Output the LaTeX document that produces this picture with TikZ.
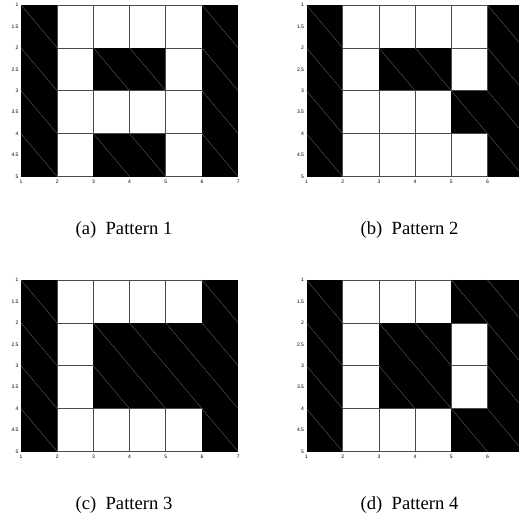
\documentclass[tikz,border=0pt]{standalone}
\usepackage{fontspec}
\setmainfont{Liberation Serif}
\setsansfont{Liberation Sans}
\usetikzlibrary{positioning}
\definecolor{ink}{RGB}{0,0,0}
\definecolor{edge}{RGB}{75,75,75}
\definecolor{seam}{RGB}{110,110,110}

\newcommand{\cellw}{36.2}
\newcommand{\cellh}{42.9}

% #1 name, #2/#3 top-left of the image area, #4 last x tick,
% #5 rows (1 = black), #6 caption
\newcommand{\patplot}[6]{%
  \begin{scope}[shift={(#2,#3)}]
    \foreach \row [count=\r] in {#5} {
      \foreach \c [count=\k] in \row {
        \ifnum\c=1
          \fill[ink] ({(\k-1)*\cellw},{(\r-1)*\cellh}) rectangle ({\k*\cellw},{\r*\cellh});
          \draw[seam,line width=0.3pt] ({(\k-1)*\cellw},{(\r-1)*\cellh}) -- ({\k*\cellw},{\r*\cellh});
        \else
          \draw[edge,fill=white,line width=0.7pt] ({(\k-1)*\cellw},{(\r-1)*\cellh}) rectangle ({\k*\cellw},{\r*\cellh});
        \fi
      }
    }
    \foreach \v [count=\i] in {1,1.5,2,2.5,3,3.5,4,4.5,5}
      \node[ticklab,anchor=east] (#1y\i) at (-1.5,{(\v-1)*\cellh}) {\v};
    \foreach \v in {1,...,#4}
      \node[ticklab,anchor=north] (#1x\v) at ({(\v-1)*\cellw},{4*\cellh+2.5}) {\v};
    \node[caplab] (#1cap) at ({3*\cellw-5.6},225) {#6};
  \end{scope}}

\begin{document}
\begin{tikzpicture}[x=1pt,y=-1pt,
    ticklab/.style={inner sep=0.8pt,font=\sffamily\fontsize{5}{6}\selectfont},
    caplab/.style={inner sep=0pt,font=\fontsize{18.6}{22}\selectfont}]
  \clip (0,0) rectangle (519,517);
  \fill[white] (0,0) rectangle (519,517);
  \patplot{pa}{21}{5}{7}{{1,0,0,0,0,1},{1,0,1,1,0,1},{1,0,0,0,0,1},{1,0,1,1,0,1}}{(a)\enspace Pattern 1}
  \patplot{pb}{306.5}{5}{6}{{1,0,0,0,0,1},{1,0,1,1,0,1},{1,0,0,0,1,1},{1,0,0,0,0,1}}{(b)\enspace Pattern 2}
  \patplot{pc}{21}{280}{7}{{1,0,0,0,0,1},{1,0,1,1,1,1},{1,0,1,1,1,1},{1,0,0,0,0,1}}{(c)\enspace Pattern 3}
  \patplot{pd}{306.5}{280}{6}{{1,0,0,0,1,1},{1,0,1,1,0,1},{1,0,1,1,0,1},{1,0,0,0,1,1}}{(d)\enspace Pattern 4}
\end{tikzpicture}
\end{document}
